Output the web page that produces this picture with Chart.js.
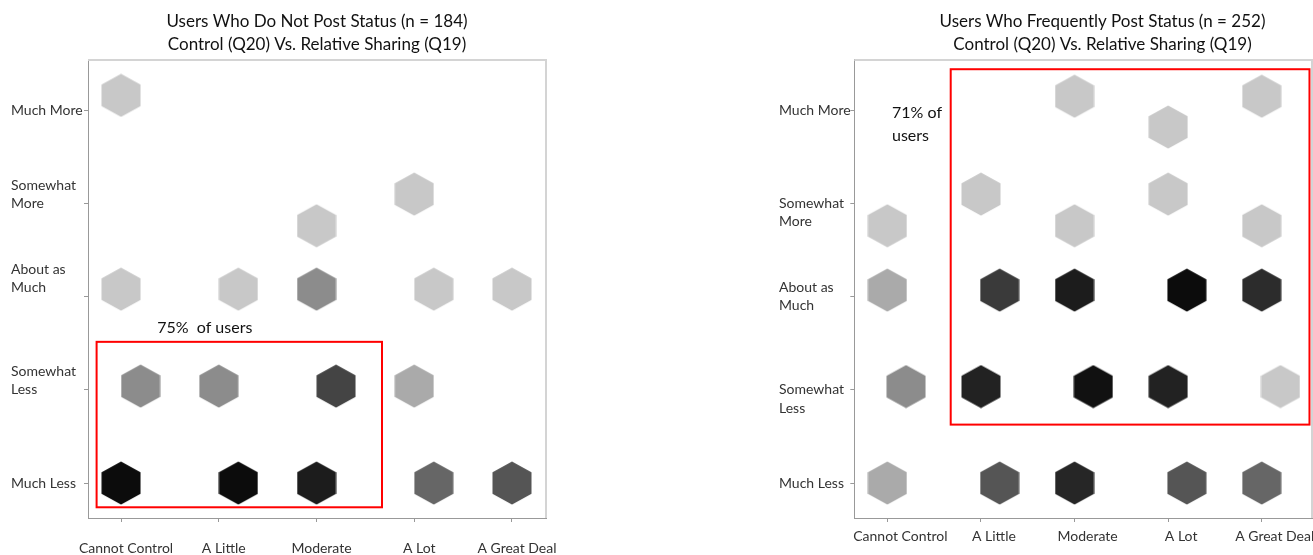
<!DOCTYPE html>
<html>
<head>
<meta charset="utf-8">
<script src="https://cdn.jsdelivr.net/npm/chart.js@4"></script>
<style>
  html, body { margin: 0; padding: 0; background: #fff; overflow: hidden; width: 1313px; height: 555px; }
  canvas { position: absolute; top: 0; }
  #left-chart { left: 0; }
  #right-chart { left: 770px; }
</style>
</head>
<body>
<canvas id="left-chart" width="634" height="555"></canvas>
<canvas id="right-chart" width="665" height="555"></canvas>
<script>
// Axis categories
const xCategories = ["Cannot Control", "A Little", "Moderate", "A Lot", "A Great Deal"];
// empty lines nudge the two-line labels up/down like in the original
const yCategoriesLeft = ["Much Less", ["Somewhat", "Less", ""], ["About as", "Much", "", ""], ["Somewhat", "More", ""], "Much More"];
const yCategoriesRight = ["Much Less", ["", "Somewhat", "Less"], ["About as", "Much"], ["", "Somewhat", "More"], "Much More"];

// Left panel: users who do not post status
const leftTitle = ["Users Who Do Not Post Status (n = 184)", "Control (Q20) Vs. Relative Sharing (Q19)"];
const leftX = [1, 4, 3, 1, 2.2, 3, 4.2, 5, 1.2, 2, 3.2, 4, 1, 2.2, 3, 4.2, 5];
const leftY = [5.16, 4.1, 3.76, 3.08, 3.08, 3.08, 3.08, 3.08, 2.04, 2.04, 2.04, 2.04, 1, 1, 1, 1, 1];
const leftFill = ["#c8c8c8", "#c8c8c8", "#c8c8c8", "#c8c8c8", "#c8c8c8", "#8c8c8c", "#c8c8c8", "#c8c8c8",
  "#8c8c8c", "#8c8c8c", "#444444", "#aaaaaa", "#0c0c0c", "#0c0c0c", "#1c1c1c", "#666666", "#555555"];
const leftBoxX = [0.75, 3.67];
const leftBoxY = [0.74, 2.515];
const leftNote = ["75%  of users"];
const leftNoteAt = [1.37, 2.66];

// Right panel: users who frequently post status
const rightTitle = ["Users Who Frequently Post Status (n = 252)", "Control (Q20) Vs. Relative Sharing (Q19)"];
const rightX = [3, 5, 4, 2, 4, 1, 3, 5, 1, 2.2, 3, 4.2, 5, 1.2, 2, 3.2, 4, 5.2, 1, 2.2, 3, 4.2, 5];
const rightY = [5.15, 5.15, 4.82, 4.1, 4.1, 3.76, 3.76, 3.76, 3.07, 3.07, 3.07, 3.07, 3.07,
  2.035, 2.035, 2.035, 2.035, 2.035, 1, 1, 1, 1, 1];
const rightFill = ["#c8c8c8", "#c8c8c8", "#c8c8c8", "#c8c8c8", "#c8c8c8", "#c8c8c8", "#c8c8c8", "#c8c8c8",
  "#aaaaaa", "#3a3a3a", "#1c1c1c", "#0c0c0c", "#2c2c2c",
  "#8c8c8c", "#222222", "#111111", "#222222", "#c8c8c8",
  "#aaaaaa", "#555555", "#262626", "#555555", "#666666"];
const rightBoxX = [1.677, 5.51];
const rightBoxY = [1.627, 5.44];
const rightNote = ["71% of", "users"];
const rightNoteAt = [1.05, 4.975];

const FONT = "Lato";

// hexagon marker drawn on a small canvas, used as pointStyle
function hexImage(color) {
  const w = 39, h = 43;
  const c = document.createElement("canvas");
  c.width = 40;
  c.height = 44;
  const ctx = c.getContext("2d");
  const cx = c.width / 2, cy = c.height / 2;
  ctx.fillStyle = color;
  ctx.beginPath();
  ctx.moveTo(cx, cy - h / 2);
  ctx.lineTo(cx + w / 2, cy - h / 4);
  ctx.lineTo(cx + w / 2, cy + h / 4);
  ctx.lineTo(cx, cy + h / 2);
  ctx.lineTo(cx - w / 2, cy + h / 4);
  ctx.lineTo(cx - w / 2, cy - h / 4);
  ctx.closePath();
  ctx.fill();
  return c;
}

// frame on top/right, red highlight box and the note text
const extrasPlugin = {
  id: "extras",
  afterDatasetsDraw(chart, args, opts) {
    const { ctx, chartArea } = chart;
    const x = chart.scales.x, y = chart.scales.y;
    ctx.save();
    ctx.strokeStyle = "#d4d4d4";
    ctx.lineWidth = 2;
    ctx.beginPath();
    ctx.moveTo(chartArea.left, chartArea.top);
    ctx.lineTo(chartArea.right, chartArea.top);
    ctx.lineTo(chartArea.right, chartArea.bottom);
    ctx.stroke();

    const x0 = x.getPixelForValue(opts.boxX[0]);
    const x1 = x.getPixelForValue(opts.boxX[1]);
    const y0 = y.getPixelForValue(opts.boxY[0]);
    const y1 = y.getPixelForValue(opts.boxY[1]);
    ctx.strokeStyle = "#ff0000";
    ctx.lineWidth = 2;
    ctx.strokeRect(x0, y1, x1 - x0, y0 - y1);

    ctx.fillStyle = "#111";
    ctx.font = "16px " + FONT;
    ctx.textAlign = "left";
    ctx.textBaseline = "middle";
    const nx = x.getPixelForValue(opts.noteAt[0]);
    const ny = y.getPixelForValue(opts.noteAt[1]);
    opts.note.forEach((line, i) => ctx.fillText(line, nx, ny + i * 23));
    ctx.restore();
  }
};

function makeChart(el, cfg) {
  return new Chart(el, {
    type: "scatter",
    data: {
      datasets: [{
        data: cfg.xs.map((v, i) => ({ x: v, y: cfg.ys[i] })),
        pointStyle: cfg.fills.map(hexImage),
        pointRadius: 20,
        borderWidth: 0,
        clip: false
      }]
    },
    plugins: [extrasPlugin],
    options: {
      responsive: false,
      animation: false,
      events: [],
      layout: { padding: { left: cfg.padLeft, right: cfg.padLeft, top: 0, bottom: 0 } },
      plugins: {
        legend: { display: false },
        tooltip: { enabled: false },
        title: {
          display: true,
          text: cfg.title,
          color: "#111",
          font: { family: FONT, size: 17, weight: "normal", lineHeight: 1.35 },
          padding: { top: 10, bottom: 4 }
        },
        extras: { boxX: cfg.boxX, boxY: cfg.boxY, note: cfg.note, noteAt: cfg.noteAt }
      },
      scales: {
        x: {
          type: "linear",
          min: cfg.xMin,
          max: cfg.xMax,
          afterBuildTicks: (s) => { s.ticks = xCategories.map((_, i) => ({ value: i + 1 })); },
          afterFit: (s) => { s.height = 37; },
          ticks: {
            callback: (v) => xCategories[v - 1],
            color: "#333",
            font: { family: FONT, size: 14 },
            padding: cfg.xPad,
            labelOffset: cfg.xLabelOffset,
            maxRotation: 0,
            autoSkip: false
          },
          grid: { drawOnChartArea: false, tickLength: 4, color: "#999" },
          border: { color: "#999" }
        },
        y: {
          type: "linear",
          min: 0.625,
          max: 5.54,
          afterBuildTicks: (s) => { s.ticks = cfg.yLabels.map((_, i) => ({ value: i + 1 })); },
          afterFit: (s) => { s.width = cfg.yWidth; },
          ticks: {
            callback: (v) => cfg.yLabels[v - 1],
            color: "#333",
            crossAlign: "far",
            font: { family: FONT, size: 14, lineHeight: 1.3 },
            autoSkip: false
          },
          grid: { drawOnChartArea: false, tickLength: 4, color: "#999" },
          border: { color: "#999" }
        },
        // empty axis on the right, keeps the title centred over the plot
        pad: {
          type: "linear",
          position: "right",
          ticks: { display: false },
          grid: { display: false },
          border: { display: false },
          afterFit: (s) => { s.width = cfg.rightSpace; }
        }
      }
    }
  });
}

// Left: chart area 88..546, labels from x=11, title centred at 317
makeChart(document.getElementById("left-chart"), {
  title: leftTitle, xs: leftX, ys: leftY, fills: leftFill,
  boxX: leftBoxX, boxY: leftBoxY, note: leftNote, noteAt: leftNoteAt,
  yLabels: yCategoriesLeft,
  xMin: 0.662, xMax: 5.348, xPad: 18, xLabelOffset: 5,
  padLeft: 11, yWidth: 77, rightSpace: 77
});

// Right: chart area 854..1312, labels from x=779, title centred at 1102
makeChart(document.getElementById("right-chart"), {
  title: rightTitle, xs: rightX, ys: rightY, fills: rightFill,
  boxX: rightBoxX, boxY: rightBoxY, note: rightNote, noteAt: rightNoteAt,
  yLabels: yCategoriesRight,
  xMin: 0.647, xMax: 5.537, xPad: 6, xLabelOffset: 13,
  padLeft: 9, yWidth: 75.3, rightSpace: 114
});
</script>
</body>
</html>
